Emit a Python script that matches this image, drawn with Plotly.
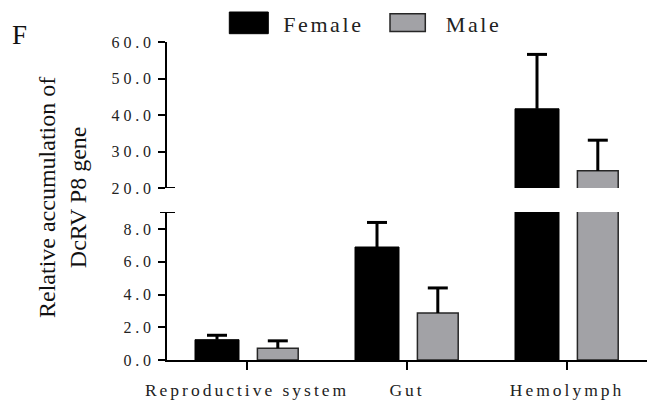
import plotly.graph_objects as go

categories = ["Reproductive system", "Gut", "Hemolymph"]
female_values = [1.24, 6.9, 41.7]
female_errors = [0.27, 1.5, 14.9]
male_values = [0.72, 2.87, 24.7]
male_errors = [0.45, 1.53, 8.4]
lower_ticks = [0, 2, 4, 6, 8]
upper_ticks = [20, 30, 40, 50, 60]
series_names = ["Female", "Male"]

W, H = 656, 408
ML, MR, MT, MB = 167, 9, 42, 48
PW, PH = W - ML - MR, H - MT - MB
BOTTOM = H - MB


def px_x(p):
    return (p - ML) / PW


def px_y(p):
    return (BOTTOM - p) / PH


FONT = "Liberation Serif"
BLACK = "#000000"
GRAY = "#a2a2a6"
EDGE = "#262626"

xs = list(range(len(categories)))
F_OFF, F_W = -0.325, 0.275
M_OFF, M_W = 0.065, 0.255
CAP = 0.0625


def err_path(values, errors, off, w):
    ex, ey = [], []
    for c, v, e in zip(xs, values, errors):
        cx = c + off + w / 2
        ex += [cx, cx, None, cx - CAP, cx + CAP, None]
        ey += [v, v + e, None, v + e, v + e, None]
    return ex, ey


fig = go.Figure()
for yax in ["y", "y2"]:
    fig.add_trace(go.Bar(
        x=xs, y=female_values, name=series_names[0], xaxis="x", yaxis=yax,
        width=F_W, offset=F_OFF,
        marker=dict(color=BLACK, line=dict(color=BLACK, width=1)),
        showlegend=False,
    ))
    fig.add_trace(go.Bar(
        x=xs, y=male_values, name=series_names[1], xaxis="x", yaxis=yax,
        width=M_W, offset=M_OFF,
        marker=dict(color=GRAY, line=dict(color=EDGE, width=1.5)),
        showlegend=False,
    ))
    for vals, errs, off, w in [(female_values, female_errors, F_OFF, F_W),
                               (male_values, male_errors, M_OFF, M_W)]:
        ex, ey = err_path(vals, errs, off, w)
        fig.add_trace(go.Scatter(x=ex, y=ey, xaxis="x", yaxis=yax, mode="lines",
                                 line=dict(color=BLACK, width=3),
                                 showlegend=False, hoverinfo="skip"))

lower_top = (BOTTOM - 212) / 16.375
lower_dom = (BOTTOM - 212) / PH
upper_dom = (BOTTOM - 188) / PH

axis_common = dict(showline=True, linecolor=BLACK, linewidth=2, ticks="outside",
                   ticklen=7, tickwidth=2, tickcolor=BLACK, showgrid=False,
                   zeroline=False, tickformat=".1f",
                   tickfont=dict(family=FONT, size=16, color="#222"))

fig.update_layout(
    width=W, height=H,
    margin=dict(l=ML, r=MR, t=MT, b=MB, pad=0),
    paper_bgcolor="white", plot_bgcolor="white",
    barmode="group", showlegend=False,
    xaxis=dict(range=[-0.5, 2.5], tickvals=xs, ticktext=categories,
               anchor="y", showline=True, linecolor=BLACK, linewidth=2,
               ticks="outside", ticklen=8, tickwidth=2, tickcolor=BLACK,
               showgrid=False, zeroline=False, ticklabelstandoff=5,
               tickfont=dict(family=FONT, size=17.5, color="#222")),
    yaxis=dict(domain=[0, lower_dom], range=[0, lower_top], tickvals=lower_ticks,
               anchor="x", **axis_common),
    yaxis2=dict(domain=[upper_dom, 1], range=[20, 60], tickvals=upper_ticks,
                anchor="x", **axis_common),
)

# break caps on the y spine
for yref, yv in [("y2", 20), ("y", lower_top)]:
    fig.add_shape(type="line", xref="paper", yref=yref, xsizemode="pixel",
                  xanchor=0, x0=-7, x1=8, y0=yv, y1=yv,
                  line=dict(color=BLACK, width=2))

# legend swatches
fig.add_shape(type="rect", xref="paper", yref="paper",
              x0=px_x(229.3), x1=px_x(268.3), y0=px_y(33.7), y1=px_y(12),
              fillcolor=BLACK, line=dict(color=BLACK, width=1))
fig.add_shape(type="rect", xref="paper", yref="paper",
              x0=px_x(390), x1=px_x(425.3), y0=px_y(31.5), y1=px_y(13.8),
              fillcolor=GRAY, line=dict(color=EDGE, width=1.5))

fig.add_annotation(text="F", xref="paper", yref="paper", x=px_x(10), y=px_y(35),
                   xanchor="left", yanchor="middle", showarrow=False,
                   font=dict(family=FONT, size=27, color="#111"))
fig.add_annotation(text="Relative accumulation of<br>DcRV P8 gene", xref="paper",
                   yref="paper", x=px_x(62), y=px_y(198), xanchor="center",
                   yanchor="middle", textangle=-90, showarrow=False,
                   font=dict(family=FONT, size=24, color="#111"))
fig.add_annotation(text=series_names[0], xref="paper", yref="paper", x=px_x(289),
                   y=px_y(24), xanchor="left", yanchor="middle", showarrow=False,
                   font=dict(family=FONT, size=22, color="#222"))
fig.add_annotation(text=series_names[1], xref="paper", yref="paper", x=px_x(449),
                   y=px_y(24), xanchor="left", yanchor="middle", showarrow=False,
                   font=dict(family=FONT, size=22, color="#222"))

post = """
document.body.style.margin = '0';
var gd = document.getElementById('{plot_id}');
function ls(sel, v){ gd.querySelectorAll(sel).forEach(function(t){ t.style.letterSpacing = v; }); }
ls('.ytick text', '3.8px');
ls('.y2tick text', '3.8px');
ls('.xtick text', '3px');
ls('.annotation[data-index="2"] text', '2.6px');
ls('.annotation[data-index="3"] text', '2.6px');
"""

fig.write_html("out.html", post_script=post, config={"displayModeBar": False})
